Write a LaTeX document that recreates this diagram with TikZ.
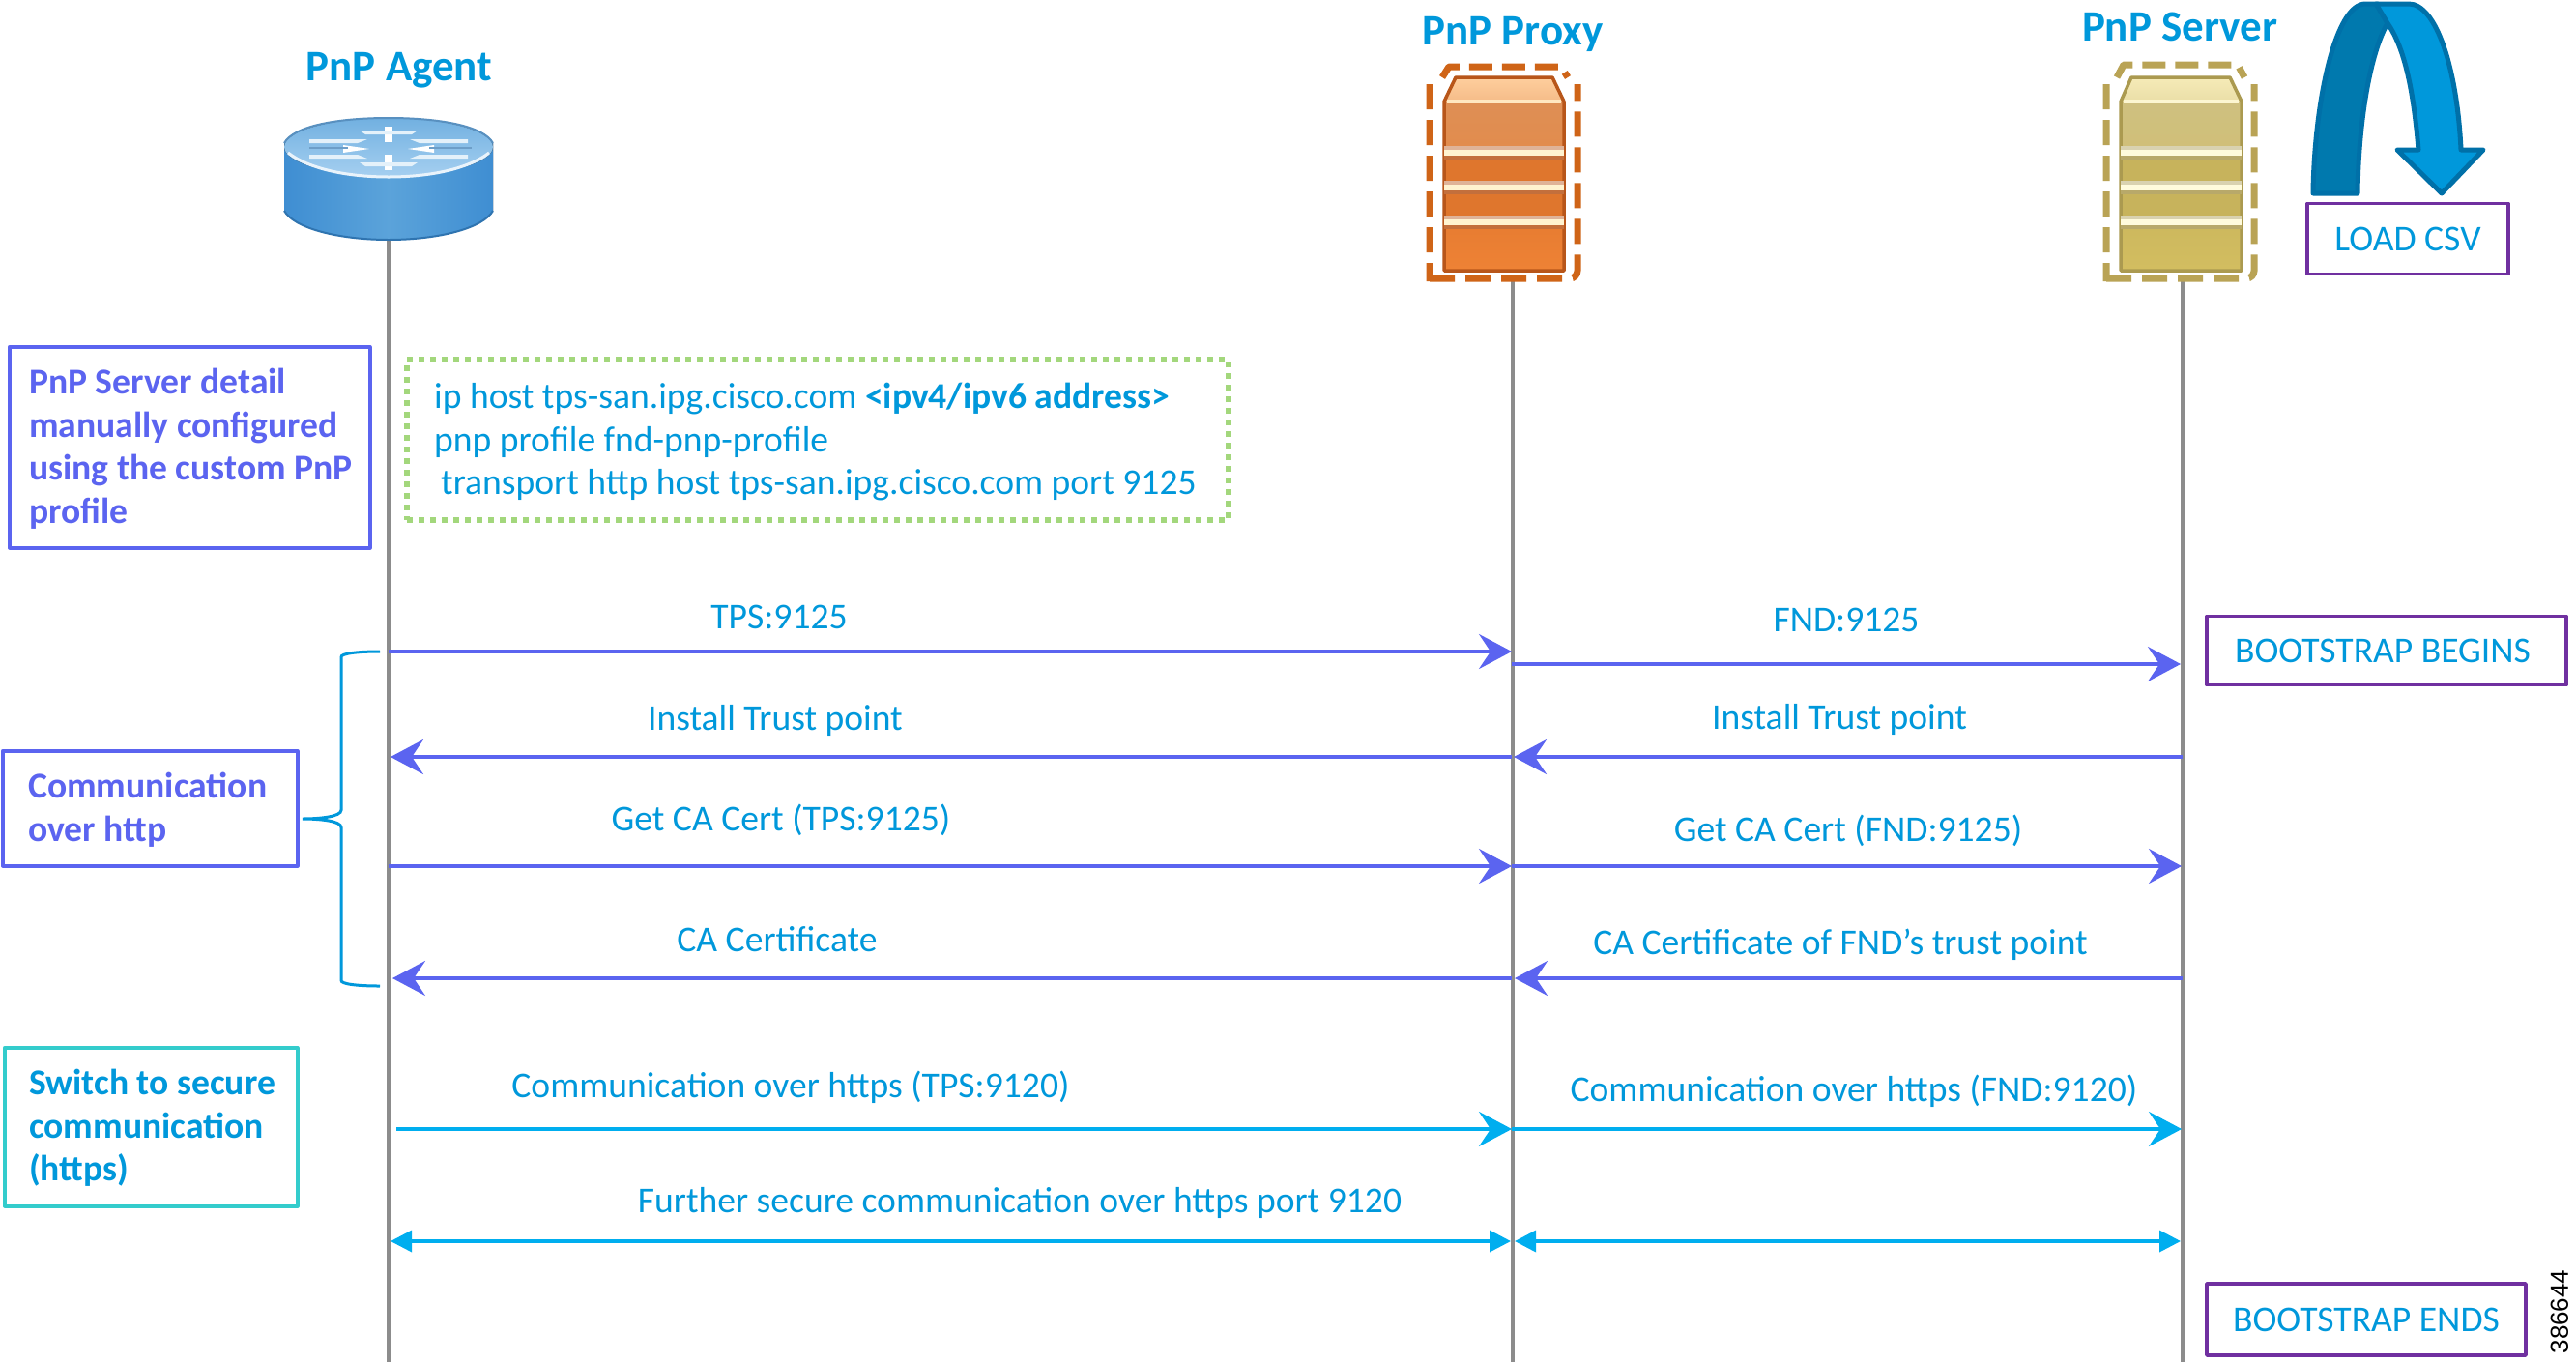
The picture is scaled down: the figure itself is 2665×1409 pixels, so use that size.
\documentclass[tikz,border=0pt]{standalone}
\usepackage{fontspec}
\setmainfont{Carlito}[Ligatures=Common]
\newfontfamily\numfont{Liberation Sans}
\usetikzlibrary{arrows.meta}
\definecolor{txtblue}{HTML}{0098DB}
\definecolor{indigo}{HTML}{5B64F0}
\definecolor{skyarrow}{HTML}{00AEEF}
\definecolor{tealbox}{HTML}{33CCCC}
\definecolor{purplebox}{HTML}{7030A0}
\definecolor{dotgreen}{HTML}{A3D77C}
\definecolor{lifeline}{HTML}{8C8C8C}
\definecolor{arrowdark}{HTML}{0070A8}
\definecolor{arrowmid}{HTML}{0079AE}
\definecolor{rbody}{HTML}{3F8ED2}
\definecolor{rmid}{HTML}{5BA3DA}
\definecolor{rtop}{HTML}{A5CFF0}
\definecolor{redge}{HTML}{2F74B0}
\definecolor{ptop}{HTML}{FFCF9E}
\definecolor{pup}{HTML}{DE8F55}
\definecolor{plow}{HTML}{EE8235}
\definecolor{pedge}{HTML}{B8561A}
\definecolor{pband}{HTML}{FFF3D0}
\definecolor{pdash}{HTML}{CF6417}
\definecolor{stop}{HTML}{F6EBB8}
\definecolor{sup}{HTML}{CFC080}
\definecolor{slow}{HTML}{D2BD60}
\definecolor{sedge}{HTML}{AB9A50}
\definecolor{sband}{HTML}{FFFBDC}
\definecolor{sdash}{HTML}{B9A355}
\tikzset{
  x=1pt,y=-1pt,
  lifel/.style={draw=lifeline,line width=3.5pt},
  msg/.style={text=txtblue,font=\fontsize{37.6}{37.6}\selectfont,anchor=base,inner sep=0pt},
  msgl/.style={msg,anchor=base west},
  title/.style={text=txtblue,font=\fontsize{45}{45}\selectfont\bfseries,anchor=base,inner sep=0pt},
  boxtext/.style={font=\fontsize{37.6}{44.5}\selectfont\bfseries,text=indigo,anchor=north west,inner sep=0pt,align=left},
  framebox/.style={line width=3.5pt,inner sep=0pt,line join=round},
  tagbox/.style={draw=purplebox,line width=3.5pt,text=txtblue,font=\fontsize{37.6}{37.6}\selectfont,inner sep=0pt,line join=round},
  arrowA/.style={draw=indigo,line width=3.5pt,-{Stealth[length=34pt,width=36pt,inset=12pt]}},
  arrowAr/.style={draw=indigo,line width=3.5pt,{Stealth[length=34pt,width=36pt,inset=12pt]}-},
  arrowB/.style={draw=skyarrow,line width=3.5pt,-{Stealth[length=34pt,width=36pt,inset=12pt]}},
  arrowC/.style={draw=skyarrow,line width=3.5pt,{Triangle[length=22pt,width=22pt]}-{Triangle[length=22pt,width=22pt]}},
  dashframe/.style={line width=7pt,dash pattern=on 26pt off 11pt,rounded corners=8pt},
  brace/.style={draw=txtblue,line width=3pt},
}
% #1 left #2 right #3 chamfer left #4 chamfer right
% #5 top #6 upper #7 lower #8 edge #9 band
\newcommand{\servericon}[9]{%
 \fill[top color=#5,bottom color=#5!70!#6] (#3,79) -- (#4,79) -- (#2,105) -- (#1,105) -- cycle;
 \fill[top color=#6,bottom color=#6!75!#7] (#1,105) rectangle (#2,155);
 \fill[#7!72!#8] (#1,155) rectangle (#2,190);
 \fill[#7!72!#8] (#1,190) rectangle (#2,226);
 \fill[top color=#7!85!#8,bottom color=#7] (#1,226) rectangle (#2,278);
 \draw[#8,line width=3.5pt,line join=round] (#1,105) -- (#3,80) -- (#4,80) -- (#2,105) -- (#2,280) -- (#1,280) -- cycle;
 \foreach \yy in {158,194,230}{
   \fill[#8!45!white] (#1,\yy-7) rectangle (#2,\yy-3);
   \fill[#9] (#1,\yy-3) rectangle (#2,\yy+3);
   \fill[#8!85!white] (#1,\yy+3) rectangle (#2,\yy+7);
 }
 \fill[#9!70!#5] (#1+3,103) rectangle (#2-3,107);
}
\begin{document}
\begin{tikzpicture}
\useasboundingbox (0,0) rectangle (2665,1409);
\fill[white] (0,0) rectangle (2665,1409);

% lifelines
\coordinate (a0) at (402,245); \coordinate (a1) at (402,1409);
\coordinate (p0) at (1565,291); \coordinate (p1) at (1565,1409);
\coordinate (s0) at (2258,291); \coordinate (s1) at (2258,1409);
\draw[lifel] (a0) -- (a1);
\draw[lifel] (p0) -- (p1);
\draw[lifel] (s0) -- (s1);

% router
\fill[left color=rbody,right color=rbody,middle color=rmid]
  (294,148) -- (294,218) .. controls (304,236) and (350,248) .. (402,248) .. controls (454,248) and (500,236) .. (510,218) -- (510,148) -- cycle;
\draw[redge,line width=2pt] (294,218) .. controls (304,236) and (350,248) .. (402,248) .. controls (454,248) and (500,236) .. (510,218);
\fill[top color=rmid!70!rtop,bottom color=rtop] (402,152) ellipse (108pt and 30pt);
\draw[redge!80!white,line width=2pt] (294,148) .. controls (304,130) and (350,122) .. (402,122) .. controls (454,122) and (500,130) .. (510,148);
\draw[white!75!rtop,line width=3pt] (298,158) .. controls (320,175) and (360,183) .. (402,183) .. controls (444,183) and (484,175) .. (506,158);
\fill[white] (398,131) rectangle (406,147);
\fill[white] (398,160) rectangle (406,176);
\fill[white!70!rtop] (372,135) -- (432,135) -- (426,139) -- (378,139) -- cycle;
\fill[white!70!rtop] (372,168) -- (432,168) -- (426,172) -- (378,172) -- cycle;
\fill[white] (355,150) -- (382,154) -- (355,158) -- cycle;
\fill[white] (449,150) -- (422,154) -- (449,158) -- cycle;
\fill[white!70!rtop] (320,144) -- (380,144) -- (370,148) -- (320,148) -- cycle;
\fill[white!70!rtop] (424,144) -- (484,144) -- (484,148) -- (434,148) -- cycle;
\fill[white!70!rtop] (320,160) -- (370,160) -- (380,164) -- (320,164) -- cycle;
\fill[white!70!rtop] (434,160) -- (484,160) -- (484,164) -- (424,164) -- cycle;
\draw[redge!70!white,line width=2pt] (320,153) -- (360,153) (444,153) -- (488,153);

% proxy and server icons
\servericon{1494}{1618}{1506}{1606}{ptop}{pup}{plow}{pedge}{pband}
\draw[pdash,dashframe] (1479,87) -- (1479,291) (1479,288) -- (1632,288) -- (1632,87);
\draw[pdash,line width=7pt,dash pattern=on 24pt off 10pt,line join=round] (1492,80) -- (1499,69) -- (1615,69) -- (1622,80);
\servericon{2194}{2319}{2205}{2307}{stop}{sup}{slow}{sedge}{sband}
\draw[sdash,dashframe] (2179,87) -- (2179,291) (2179,288) -- (2332,288) -- (2332,87);
\draw[sdash,line width=7pt,dash pattern=on 24pt off 10pt,line join=round] (2190,80) -- (2197,67) -- (2315,67) -- (2322,80);

% curved arrow
\filldraw[fill=arrowmid,draw=arrowdark,line width=5pt,line join=round]
  (2393,200) .. controls (2394,110) and (2415,4) .. (2447,4) -- (2460,4) -- (2470,24) .. controls (2452,55) and (2440,125) .. (2439,200) -- cycle;
\filldraw[fill=txtblue,draw=arrowdark,line width=5pt,line join=round]
  (2458,4) -- (2492,4) .. controls (2520,4) and (2542,70) .. (2546,155) -- (2569,155) -- (2526,200) -- (2480,155) -- (2502,155) .. controls (2497,95) and (2488,50) .. (2470,24) -- cycle;

% titles
\node[title] (tagent) at (413,83) {PnP Agent};
\node[title] (tproxy) at (1565,46) {PnP Proxy};
\node[title] (tserver) at (2255,42) {PnP Server};

% boxes
\node[framebox,draw=indigo,minimum width=373pt,minimum height=208pt,anchor=north west] (detail) at (8,357) {};
\node[boxtext] (detailt) at (30,381) {PnP Server detail\\manually configured\\using the custom PnP\\profile};
\node[framebox,draw=dotgreen,line width=6pt,dash pattern=on 6pt off 6pt,minimum width=850pt,minimum height=166pt,anchor=north west] (cfg) at (418,369) {};
\node[msgl] (cfg1) at (449,422) {ip host tps-san.ipg.cisco.com \textbf{<ipv4/ipv6 address>}};
\node[msgl] (cfg2) at (449,467) {pnp profile fnd-pnp-profile};
\node[msgl] (cfg3) at (456,511) {transport http host tps-san.ipg.cisco.com port 9125};
\node[framebox,draw=indigo,minimum width=305pt,minimum height=119pt,anchor=north west] (comm) at (1,775) {};
\node[boxtext] (commt) at (29,799) {Communication\\over http};
\node[framebox,draw=tealbox,minimum width=303pt,minimum height=164pt,anchor=north west] (sw) at (3,1082) {};
\node[boxtext,text=txtblue] (swt) at (30,1106) {Switch to secure\\communication\\(https)};
\node[tagbox,minimum width=208pt,minimum height=73pt] (load) at (2491,247) {LOAD CSV};
\node[tagbox,minimum width=372pt,minimum height=71pt] (begin) at (2469,673) {};
\node[msg] (begint) at (2465,685) {BOOTSTRAP BEGINS};
\node[tagbox,minimum width=330pt,minimum height=74pt] (ends) at (2448,1365) {BOOTSTRAP ENDS};
\node[rotate=90,font=\numfont\fontsize{26}{26}\selectfont,inner sep=0pt] (num) at (2648,1357) {386644};

% brace
\coordinate (bt) at (393,674); \coordinate (bb) at (393,1020); \coordinate (bm) at (313,847);
\draw[brace] (bt) .. controls (370,674) and (352,676) .. (353,680) -- (353,838) .. controls (353,845) and (330,847) .. (bm)
  .. controls (330,847) and (353,849) .. (353,856) -- (353,1014) .. controls (352,1018) and (370,1020) .. (bb);

% messages
\coordinate (m1a) at (402,674); \coordinate (m1p) at (1564,674);
\coordinate (m2p) at (1564,687); \coordinate (m2s) at (2256,687);
\coordinate (m3a) at (404,783); \coordinate (m3p) at (1564,783);
\coordinate (m4p) at (1566,783); \coordinate (m4s) at (2258,783);
\coordinate (m5a) at (402,896); \coordinate (m5p) at (1564,896);
\coordinate (m6p) at (1564,896); \coordinate (m6s) at (2257,896);
\coordinate (m7a) at (406,1012); \coordinate (m7p) at (1564,1012);
\coordinate (m8p) at (1567,1012); \coordinate (m8s) at (2258,1012);
\coordinate (m9a) at (410,1168); \coordinate (m9p) at (1564,1168);
\coordinate (m10p) at (1564,1168); \coordinate (m10s) at (2257,1168);
\coordinate (m11a) at (404,1284); \coordinate (m11p) at (1563,1284);
\coordinate (m12p) at (1567,1284); \coordinate (m12s) at (2256,1284);
\draw[arrowA] (m1a) -- (m1p);
\draw[arrowA] (m2p) -- (m2s);
\draw[arrowAr] (m3a) -- (m3p);
\draw[arrowAr] (m4p) -- (m4s);
\draw[arrowA] (m5a) -- (m5p);
\draw[arrowA] (m6p) -- (m6s);
\draw[arrowAr] (m7a) -- (m7p);
\draw[arrowAr] (m8p) -- (m8s);
\draw[arrowB] (m9a) -- (m9p);
\draw[arrowB] (m10p) -- (m10s);
\draw[arrowC] (m11a) -- (m11p);
\draw[arrowC] (m12p) -- (m12s);

% labels
\node[msg] (l1) at (806,650) {TPS:9125};
\node[msg] (l2) at (1910,653) {FND:9125};
\node[msg] (l3) at (802,755) {Install Trust point};
\node[msg] (l4) at (1903,754) {Install Trust point};
\node[msg] (l5) at (808,859) {Get CA Cert (TPS:9125)};
\node[msg] (l6) at (1912,870) {Get CA Cert (FND:9125)};
\node[msg] (l7) at (804,984) {CA Certificate};
\node[msg] (l8) at (1904,987) {CA Certificate of FND’s trust point};
\node[msg] (l9) at (818,1135) {Communication over https (TPS:9120)};
\node[msg] (l10) at (1918,1139) {Communication over https (FND:9120)};
\node[msg] (l11) at (1055,1254) {Further secure communication over https port 9120};
\end{tikzpicture}
\end{document}
